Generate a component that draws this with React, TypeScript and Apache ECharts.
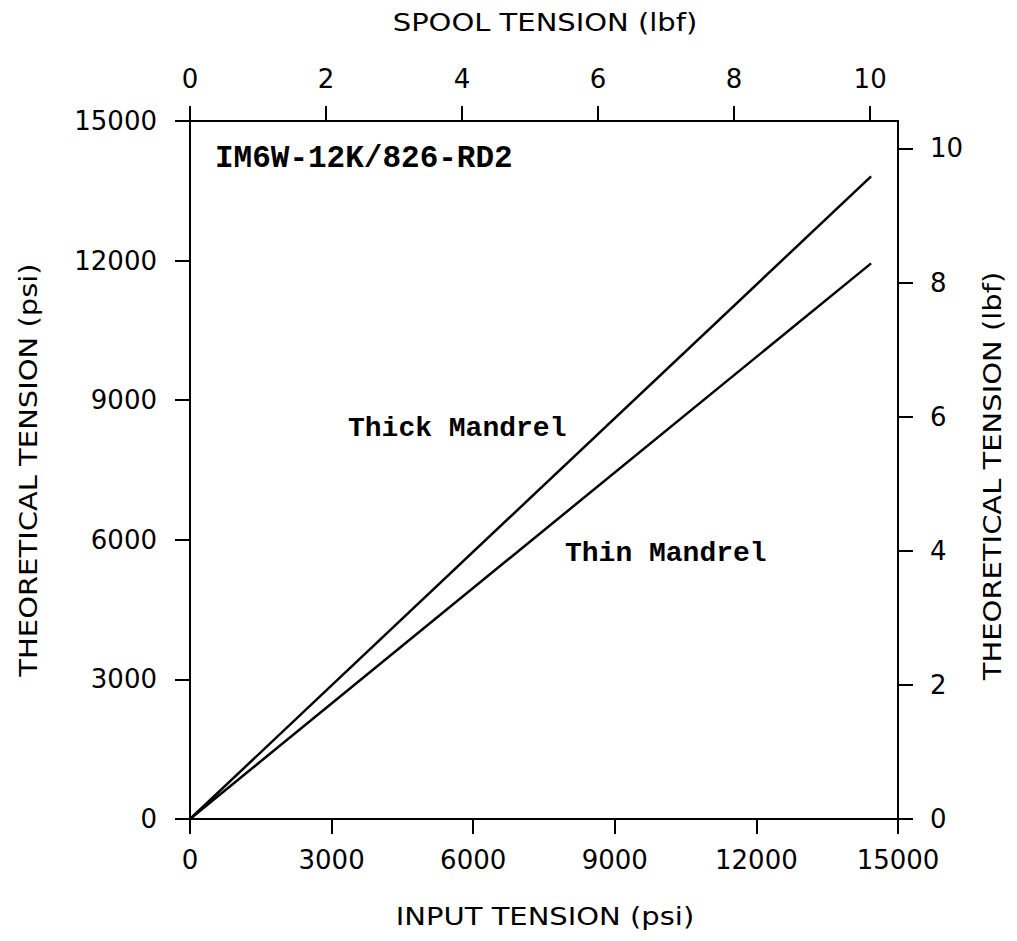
import React, { useEffect, useRef } from "react";
import * as echarts from "echarts";

// Input tension (psi) at which each curve was sampled
const inputTension = [0, 14430];
// Theoretical tension (psi)
const thickMandrel = [0, 13810];
const thinMandrel = [0, 11940];

// tick labels
const psiTicks = [0, 3000, 6000, 9000, 12000, 15000];
const lbfTicks = [0, 2, 4, 6, 8, 10];
// conversion between psi and lbf for the secondary axes
const PSI_PER_LBF = 1441;
const PSI_MAX = 15000;

const axisTitles = [
  { text: "SPOOL TENSION (lbf)", x: 545, y: 22, rot: 0 },
  { text: "INPUT TENSION (psi)", x: 545, y: 916, rot: 0 },
  { text: "THEORETICAL TENSION (psi)", x: 28, y: 470, rot: Math.PI / 2 },
  { text: "THEORETICAL TENSION (lbf)", x: 992, y: 476, rot: Math.PI / 2 },
];

const annotations = [
  { text: "IM6W-12K/826-RD2", x: 215, y: 158, size: 31 },
  { text: "Thick Mandrel", x: 348, y: 428, size: 28 },
  { text: "Thin Mandrel", x: 565, y: 553, size: 28 },
];

const labelFont = { color: "#000", fontSize: 26, fontFamily: "DejaVu Sans" };
const axisCol = { color: "#000", width: 2 };
const seriesCol = { color: "#000", width: 2.5 };
const plain = (v: number) => String(v);

export default function App() {
  const ref = useRef<HTMLDivElement>(null);
  useEffect(() => {
    if (!ref.current) return;
    const chart = echarts.init(ref.current, undefined, { renderer: "svg" });
    const axisCommon = {
      type: "value",
      axisLine: { show: true, onZero: false, lineStyle: axisCol },
      axisTick: { show: true, inside: false, length: 15, lineStyle: axisCol },
      splitLine: { show: false },
    };
    const lbfMax = PSI_MAX / PSI_PER_LBF;
    const titleEls = axisTitles.map((t) => ({
      type: "text",
      x: t.x,
      y: t.y,
      rotation: t.rot,
      scaleX: 1.16,
      scaleY: 1,
      z: 100,
      style: {
        text: t.text,
        font: '25px "DejaVu Sans"',
        fill: "#000",
        align: "center",
        verticalAlign: "middle",
      },
    }));
    const annoEls = annotations.map((a) => ({
      type: "text",
      x: a.x,
      y: a.y,
      z: 100,
      style: {
        text: a.text,
        font: `bold ${a.size}px "Liberation Mono"`,
        fill: "#000",
        verticalAlign: "middle",
        align: "left",
      },
    }));
    chart.setOption({
      animation: false,
      backgroundColor: "#fff",
      grid: { left: 190, right: 119, top: 121, bottom: 122, containLabel: false },
      xAxis: [
        {
          ...axisCommon,
          position: "bottom",
          min: psiTicks[0],
          max: psiTicks[psiTicks.length - 1],
          interval: 3000,
          axisLabel: { ...labelFont, margin: 28, formatter: plain },
        },
        {
          ...axisCommon,
          position: "top",
          min: 0,
          max: lbfMax,
          axisTick: { ...axisCommon.axisTick, customValues: lbfTicks },
          axisLabel: { ...labelFont, margin: 29, customValues: lbfTicks, formatter: plain },
        },
      ],
      yAxis: [
        {
          ...axisCommon,
          position: "left",
          min: psiTicks[0],
          max: psiTicks[psiTicks.length - 1],
          interval: 3000,
          axisLabel: { ...labelFont, margin: 33, formatter: plain },
        },
        {
          ...axisCommon,
          position: "right",
          min: 0,
          max: lbfMax,
          axisTick: { ...axisCommon.axisTick, customValues: lbfTicks },
          axisLabel: { ...labelFont, margin: 32, customValues: lbfTicks, formatter: plain },
        },
      ],
      graphic: [...titleEls, ...annoEls],
      series: [
        {
          name: "Thick Mandrel",
          type: "line",
          xAxisIndex: 0,
          yAxisIndex: 0,
          data: inputTension.map((x, i) => [x, thickMandrel[i]]),
          symbol: "none",
          lineStyle: seriesCol,
          silent: true,
        },
        {
          name: "Thin Mandrel",
          type: "line",
          xAxisIndex: 0,
          yAxisIndex: 0,
          data: inputTension.map((x, i) => [x, thinMandrel[i]]),
          symbol: "none",
          lineStyle: seriesCol,
          silent: true,
        },
      ],
    });
    return () => chart.dispose();
  }, []);
  return (
    <div
      ref={ref}
      style={{ position: "fixed", left: 0, top: 0, width: 1017, height: 941, background: "#fff" }}
    />
  );
}
